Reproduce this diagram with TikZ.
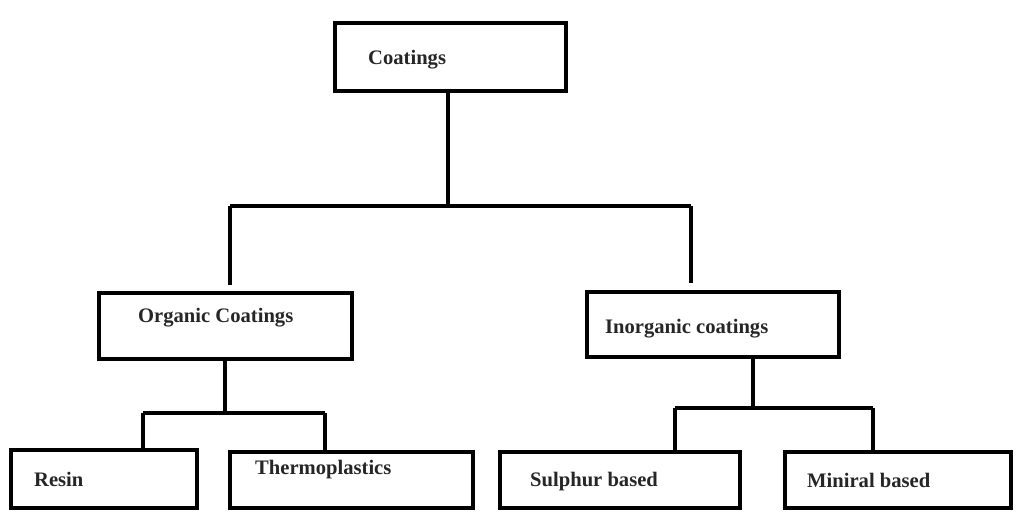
\documentclass[tikz,border=0pt]{standalone}
\usepackage{fontspec}
\setmainfont{Liberation Serif}
\begin{document}
\begin{tikzpicture}[x=1pt,y=-1pt,
  box/.style={draw=black,line width=3.5pt,rectangle,inner sep=0pt,fill=white},
  lbl/.style={anchor=west,inner sep=0pt,font=\bfseries\fontsize{20.6}{24}\selectfont,text=black!85},
  conn/.style={draw=black,line width=3.2pt}]
\useasboundingbox (0,0) rectangle (1016,515);
% boxes
\node[box,minimum width=231pt,minimum height=68pt] (coat) at (450.5,57) {};
\node[box,minimum width=253pt,minimum height=66pt] (org) at (225.5,326) {};
\node[box,minimum width=252pt,minimum height=65pt] (inorg) at (713,324.5) {};
\node[box,minimum width=186pt,minimum height=58pt] (resin) at (104,479) {};
\node[box,minimum width=243pt,minimum height=56pt] (thermo) at (351.5,480) {};
\node[box,minimum width=240pt,minimum height=56pt] (sulph) at (620,480) {};
\node[box,minimum width=226pt,minimum height=56pt] (miner) at (898,480) {};
% labels
\node[lbl] (tcoat) at (368,60) {Coatings};
\node[lbl] (torg) at (138,318) {Organic Coatings};
\node[lbl] (tinorg) at (605,329) {Inorganic coatings};
\node[lbl] (tresin) at (34,479) {Resin};
\node[lbl] (tthermo) at (255,470) {Thermoplastics};
\node[lbl] (tsulph) at (530,482) {Sulphur based};
\node[lbl] (tminer) at (807,480) {Miniral based};
% junctions
\coordinate (j1) at (448,206);
\coordinate (j1l) at (230,206);
\coordinate (j1r) at (691,206);
\coordinate (j2) at (225,413);
\coordinate (j2l) at (143,413);
\coordinate (j2r) at (325,413);
\coordinate (j3) at (753,408);
\coordinate (j3l) at (675,408);
\coordinate (j3r) at (873,408);
% connectors
\draw[conn] (coat.south -| j1) -- (j1);
\draw[conn] (j1l) -- (j1r);
\draw[conn] (j1l) -- ([yshift=6pt]j1l |- org.north);
\draw[conn] (j1r) -- ([yshift=7pt]j1r |- inorg.north);
\draw[conn] (org.south -| j2) -- (j2);
\draw[conn] (j2l) -- (j2r);
\draw[conn] (j2l) -- (j2l |- resin.north);
\draw[conn] (j2r) -- (j2r |- thermo.north);
\draw[conn] (inorg.south -| j3) -- (j3);
\draw[conn] (j3l) -- (j3r);
\draw[conn] (j3l) -- (j3l |- sulph.north);
\draw[conn] (j3r) -- (j3r |- miner.north);
\end{tikzpicture}
\end{document}
